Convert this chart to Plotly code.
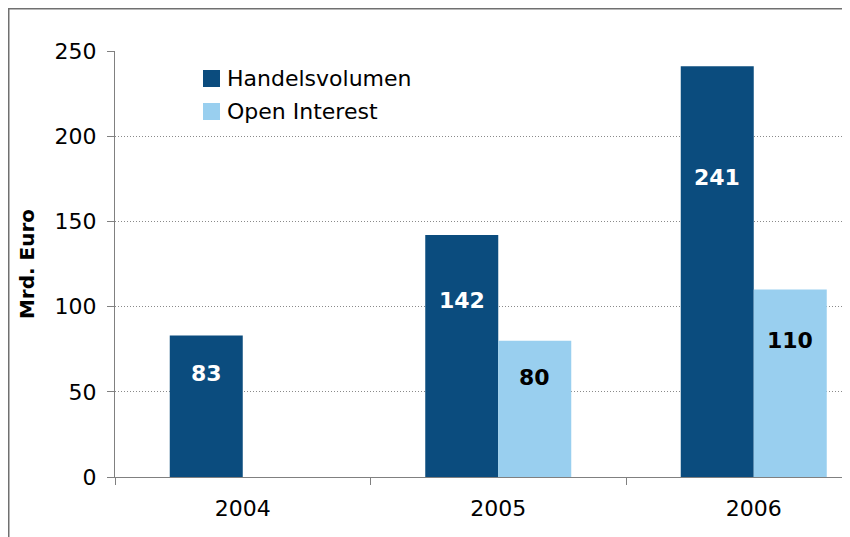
import plotly.graph_objects as go

years = ["2004", "2005", "2006"]
handelsvolumen = [83, 142, 241]
open_interest = [None, 80, 110]
y_ticks = [0, 50, 100, 150, 200, 250]
series_names = ["Handelsvolumen", "Open Interest"]

DARK = "#0b4c7e"
LIGHT = "#99cfef"
FONT = "DejaVu Sans"
FS = 22

# layout geometry (figure px); page body adds an 8px offset
ML, MT, MB = 107, 43, 68
PW = 850 - ML
PH = 537 - MT - MB
CAT_W = 255.5


def px_x(x):
    return (x - ML) / PW


def px_y(y):
    return (537 - MB - y) / PH


fig = go.Figure()
fig.add_trace(go.Bar(x=years, y=handelsvolumen, name=series_names[0],
                     marker=dict(color=DARK, line=dict(width=0)), showlegend=False))
fig.add_trace(go.Bar(x=years, y=open_interest, name=series_names[1],
                     marker=dict(color=LIGHT, line=dict(width=0)), showlegend=False))

# value labels inside bars (placed at ~73% of bar height like the reference)
LABEL_FRAC = 0.73
for i, v in enumerate(handelsvolumen):
    if v is not None:
        fig.add_annotation(x=i, y=v * LABEL_FRAC, text=f"<b>{v}</b>", showarrow=False,
                           xshift=-36.5, font=dict(family=FONT, size=FS, color="white"))
for i, v in enumerate(open_interest):
    if v is not None:
        fig.add_annotation(x=i, y=v * LABEL_FRAC, text=f"<b>{v}</b>", showarrow=False,
                           xshift=36.5, font=dict(family=FONT, size=FS, color="black"))

# manual legend (large square swatches)
legend_rows = [(series_names[0], DARK, 62, 79), (series_names[1], LIGHT, 95, 112)]
for name, col, top, bot in legend_rows:
    fig.add_shape(type="rect", xref="paper", yref="paper", x0=px_x(195), x1=px_x(212),
                  y0=px_y(bot), y1=px_y(top), fillcolor=col, line=dict(width=0))
    fig.add_annotation(xref="paper", yref="paper", x=px_x(217), y=px_y((top + bot) / 2), text=name,
                       showarrow=False, xanchor="left", yanchor="middle",
                       font=dict(family=FONT, size=FS, color="black"))

# outer frame
fig.add_shape(type="rect", xref="paper", yref="paper", x0=px_x(0.75), x1=1.2, y0=-0.3, y1=px_y(0.75),
              line=dict(color="#707070", width=1.5), fillcolor="rgba(0,0,0,0)", layer="below")

fig.update_layout(
    width=850, height=537,
    margin=dict(l=ML, r=0, t=MT, b=MB),
    paper_bgcolor="white", plot_bgcolor="white",
    barmode="group", bargap=0.4286, bargroupgap=0,
    font=dict(family=FONT, size=FS, color="black"),
    showlegend=False,
    xaxis=dict(type="category", range=[-0.5, -0.5 + PW / CAT_W], showline=True, linecolor="#808080",
               linewidth=1, ticks="outside", tickson="boundaries", ticklen=7, tickcolor="#808080",
               showgrid=False, tickfont=dict(size=FS), automargin=False, ticklabelstandoff=12),
    yaxis=dict(range=[0, 250], tickvals=y_ticks, showline=True, linecolor="#808080", linewidth=1,
               ticks="outside", ticklen=7, tickcolor="#808080",
               showgrid=True, gridcolor="#8a8a8a", griddash="1px,2px", gridwidth=1,
               zeroline=False, tickfont=dict(size=FS), automargin=False, ticklabelstandoff=6,
               title=dict(text="<b>Mrd. Euro</b>", font=dict(size=20), standoff=14)),
)

fig.write_html("out.html")
